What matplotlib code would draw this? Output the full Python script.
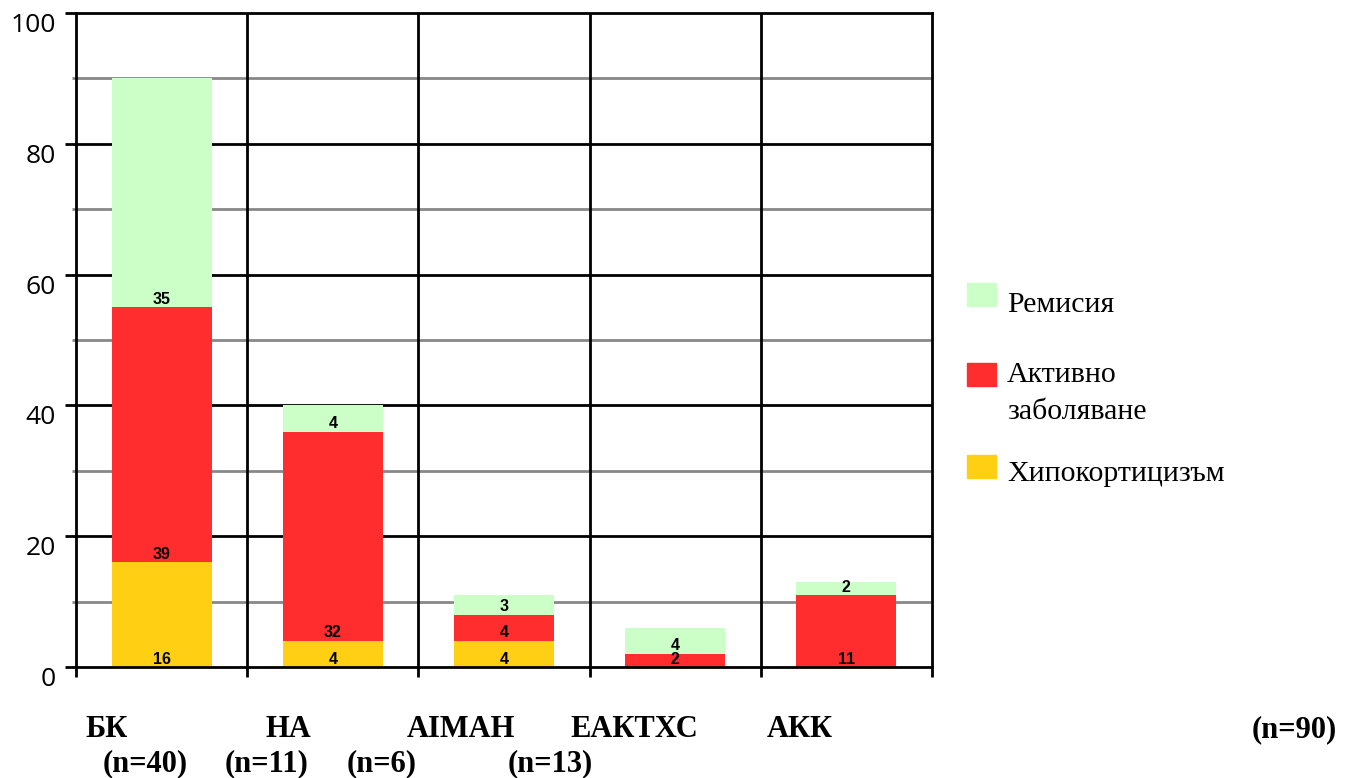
# stacked bars: outcome per group (Ремисия / Активно заболяване / Хипокортицизъм)
import numpy as np
import matplotlib
matplotlib.use('Agg')
import matplotlib.pyplot as plt
from matplotlib.patches import Rectangle
from matplotlib.transforms import blended_transform_factory, ScaledTranslation

# data
groups = ['БК', 'НА', 'AIMAH', 'ЕАКТХС', 'АКК']
hipo = [16, 4, 4, 0, 0]
aktivno = [39, 32, 4, 2, 11]
remisia = [35, 4, 3, 4, 2]
series_names = ['Хипокортицизъм', 'Активно\nзаболяване', 'Ремисия']
series_colors = ['#FFCF14', '#FF2D2D', '#CCFFC8']
yticks = [0, 20, 40, 60, 80, 100]

# text under the axis, two rows as in the original
row1_text = ['БК', 'НА', 'AIMAH', 'ЕАКТХС', 'АКК', '(n=90)']
row2_text = ['(n=40)', '(n=11)', '(n=6)', '(n=13)']

# layout (pixels of the 1351x778 picture)
W, H = 1351, 778
row1_x = [85, 265, 407, 570, 767, 1252]
row2_x = [103, 225, 347, 508]
row1_base = 737
row2_base = 771

fig = plt.figure(figsize=(W / 100, H / 100), dpi=100)
ax = fig.add_axes([76 / W, (H - 667) / H, (932 - 76) / W, (667 - 13) / H])

x = np.arange(len(groups))
series = [hipo, aktivno, remisia]
bottom = np.zeros(len(groups))
for vals, col in zip(series, series_colors):
    vals = np.array(vals, dtype=float)
    ax.bar(x, vals, width=0.585, bottom=bottom, color=col, zorder=3)
    # value labels sit at the bottom of each segment
    for xi, b, v in zip(x, bottom, vals):
        if v > 0:
            ax.annotate(f'{int(v)}', (xi, b), xytext=(0, 2.5), textcoords='offset points',
                        ha='center', va='baseline', fontsize=11.5, fontweight='bold',
                        family='Liberation Sans', zorder=4)
    bottom = bottom + vals

ax.set_xlim(-0.5, len(groups) - 0.5)
ax.set_ylim(0, 100)

# horizontal lines: black every 20, grey every 10
for v in range(10, 100, 20):
    ax.axhline(v, color='#888888', lw=2, zorder=1)
for v in range(20, 100, 20):
    ax.axhline(v, color='black', lw=2, zorder=1)
# vertical separators between groups
for b in np.arange(0.5, len(groups) - 0.5, 1):
    ax.axvline(b, color='black', lw=2, zorder=1)

for s in ax.spines.values():
    s.set_linewidth(2)
    s.set_color('black')
ax.spines['bottom'].set_zorder(5)

ax.set_xticks(np.arange(-0.5, len(groups), 1))
ax.set_xticklabels([])
ax.tick_params(axis='x', direction='out', length=7, width=2, color='black')
ax.set_yticks(yticks)
ax.set_yticklabels([])
ax.set_yticks(range(10, 100, 20), minor=True)
ax.tick_params(axis='y', which='major', direction='out', length=8, width=2, color='black')
ax.tick_params(axis='y', which='minor', direction='out', length=3, width=2, color='#888888')

# y labels sit a little below their lines
trans = blended_transform_factory(fig.transFigure, ax.transData)
off = ScaledTranslation(0, -0.125, fig.dpi_scale_trans)
for v in yticks:
    fig.text(56 / W, v, str(v), transform=trans + off, ha='right', va='center',
             fontsize=19, family='Open Sans')

# category labels
for t, px in zip(row1_text, row1_x):
    fig.text(px / W, (H - row1_base) / H, t, ha='left', va='baseline',
             fontsize=22, fontweight='bold', family='Liberation Serif')
for t, px in zip(row2_text, row2_x):
    fig.text(px / W, (H - row2_base) / H, t, ha='left', va='baseline',
             fontsize=22, fontweight='bold', family='Liberation Serif')

# legend drawn by hand
leg_patch_top = [283, 363, 455]
leg_base = [312, 382, 481]
for name, col, pt, bl in zip(series_names[::-1], series_colors[::-1], leg_patch_top, leg_base):
    fig.patches.append(Rectangle((967 / W, (H - pt - 23) / H), 29 / W, 23 / H,
                                 transform=fig.transFigure, color=col))
    lines = name.split('\n')
    for i, ln in enumerate(lines):
        fig.text(1007 / W, (H - bl - i * 37) / H, ln, ha='left', va='baseline',
                 fontsize=21.5, family='Liberation Serif')

fig.savefig('out.png', dpi=100)
